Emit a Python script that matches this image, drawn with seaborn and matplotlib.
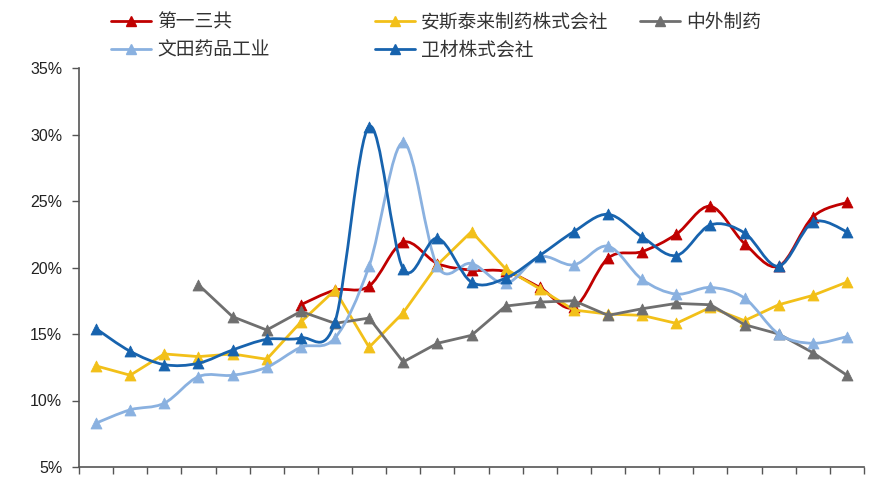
import numpy as np
import pandas as pd
import matplotlib
matplotlib.use("Agg")
import matplotlib.pyplot as plt
import seaborn as sns
from matplotlib.path import Path
from matplotlib.patches import PathPatch
from matplotlib.lines import Line2D
from matplotlib.ticker import FuncFormatter

nan = np.nan
periods = list(range(23))

daiichi = [nan] * 6 + [17.2, 18.3, 18.6, 21.9, 20.3, 19.8, 19.7, 18.5, 17.0, 20.7,
                       21.2, 22.5, 24.6, 21.8, 20.1, 23.8, 24.9]
astellas = [12.6, 11.9, 13.5, 13.3, 13.5, 13.1, 15.9, 18.3, 14.0, 16.6, 20.2, 22.7,
            19.9, 18.4, 16.8, 16.5, 16.4, 15.8, 17.0, 16.0, 17.2, 17.9, 18.9]
chugai = [nan] * 3 + [18.7, 16.3, 15.3, 16.7, 15.8, 16.2, 12.9, 14.3, 14.9, 17.1,
                      17.4, 17.5, 16.4, 16.9, 17.3, 17.2, 15.7, 15.0, 13.6, 11.9]
tanabe = [8.3, 9.3, 9.8, 11.8, 11.9, 12.5, 14.0, 14.7, 20.1, 29.4, 20.1, 20.3,
          18.8, 20.8, 20.2, 21.6, 19.1, 18.0, 18.5, 17.7, 15.0, 14.3, 14.8]
eisai = [15.4, 13.7, 12.7, 12.8, 13.8, 14.6, 14.7, 15.9, 30.6, 19.9, 22.2, 18.9,
         19.2, 20.9, 22.7, 24.0, 22.3, 20.9, 23.2, 22.6, 20.1, 23.4, 22.7]

names = ["第一三共", "安斯泰来制药株式会社", "中外制药", "文田药品工业", "卫材株式会社"]
series = [daiichi, astellas, chugai, tanabe, eisai]
colors = ["#C00000", "#F2C019", "#6F6F6F", "#8AB1E0", "#1763AE"]
smooth = [True, False, False, True, True]

y_ticks = [5, 10, 15, 20, 25, 30, 35]

sns.set_theme(style="white")
plt.rcParams["font.family"] = ["Noto Sans CJK SC", "DejaVu Sans"]

fig = plt.figure(figsize=(8.75, 4.8), dpi=100)
ax = fig.add_axes([79 / 875, 13 / 480, (864 - 79) / 875, (467 - 68) / 480])

lw = 2.0
for i, (name, vals, col, sm) in enumerate(zip(names, series, colors, smooth)):
    df = pd.DataFrame({"period": periods, "value": vals}).dropna()
    z = 2 + i
    if sm:
        pts = df[["period", "value"]].to_numpy(dtype=float)
        n = len(pts)
        verts = [pts[0]]
        codes = [Path.MOVETO]
        for k in range(n - 1):
            p_prev = pts[k - 1] if k > 0 else pts[k]
            p_next2 = pts[k + 2] if k + 2 < n else pts[k + 1]
            c1 = pts[k] + (pts[k + 1] - p_prev) / 6.0
            c2 = pts[k + 1] - (p_next2 - pts[k]) / 6.0
            verts += [c1, c2, pts[k + 1]]
            codes += [Path.CURVE4] * 3
        patch = PathPatch(Path(np.array(verts), codes), facecolor="none",
                          edgecolor=col, lw=lw, zorder=z, capstyle="round",
                          joinstyle="round")
        ax.add_patch(patch)
    else:
        sns.lineplot(data=df, x="period", y="value", ax=ax, color=col, lw=lw,
                     zorder=z, legend=False)
    sns.scatterplot(data=df, x="period", y="value", ax=ax, color=col, marker="^",
                    s=62, edgecolor=col, linewidth=0.6, zorder=z + 0.5, legend=False)

ax.set_xlim(-0.5, 22.5)
ax.set_ylim(5, 35)
ax.set_xticks(np.arange(-0.5, 23, 1.0))
ax.set_xticklabels([])
ax.set_yticks(y_ticks)
ax.yaxis.set_major_formatter(FuncFormatter(lambda v, p: f"{v:.0f}%"))
for lab in ax.get_yticklabels():
    lab.set_fontfamily(["Liberation Sans", "DejaVu Sans"])
    lab.set_fontsize(11.5)
    lab.set_color("#222222")
ax.set_xlabel("")
ax.set_ylabel("")
ax.tick_params(axis="both", direction="out", length=5, width=1.0, color="#555555",
               left=True, bottom=True)
ax.tick_params(axis="y", pad=7)
for s in ["top", "right"]:
    ax.spines[s].set_visible(False)
for s in ["left", "bottom"]:
    ax.spines[s].set_color("#555555")
    ax.spines[s].set_linewidth(1.2)
ax.grid(False)

# legend entries, placed like the original
pos = [(111, 22), (375, 22), (640, 22), (111, 50), (375, 50)]
for name, col, (px, py) in zip(names, colors, pos):
    h = Line2D([], [], color=col, lw=lw, marker="^", markersize=7,
               markerfacecolor=col, markeredgecolor=col)
    leg = fig.legend(handles=[h], labels=[name], loc="center left",
                     bbox_to_anchor=(px / 875, 1 - py / 480), frameon=False,
                     borderpad=0, borderaxespad=0, handlelength=2.15,
                     handletextpad=0.3, prop={"size": 13.5})
    for t in leg.get_texts():
        t.set_color("#333333")

fig.savefig("out.png", dpi=100, facecolor="white")
